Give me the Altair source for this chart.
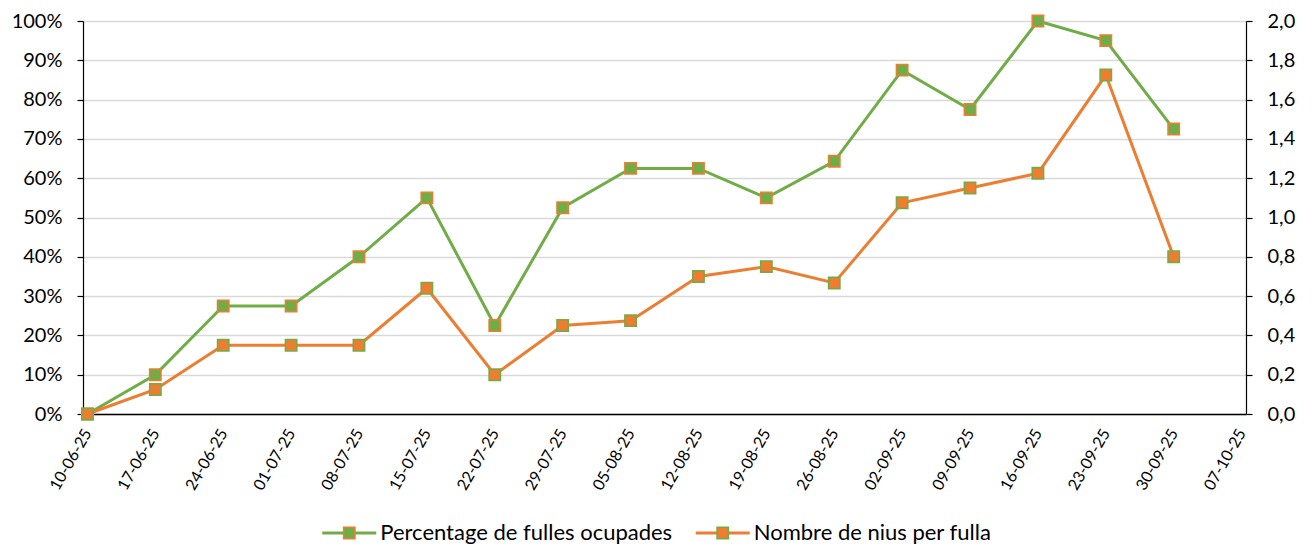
import altair as alt
import pandas as pd

# ---- data ----
dates = ["10-06-25", "17-06-25", "24-06-25", "01-07-25", "08-07-25", "15-07-25",
         "22-07-25", "29-07-25", "05-08-25", "12-08-25", "19-08-25", "26-08-25",
         "02-09-25", "09-09-25", "16-09-25", "23-09-25", "30-09-25", "07-10-25"]
pct_values = [0, 10, 27.5, 27.5, 40, 55, 22.5, 52.5, 62.5, 62.5, 55, 64.3,
              87.5, 77.5, 100, 95, 72.5]
nius_values = [0, 0.125, 0.35, 0.35, 0.35, 0.64, 0.2, 0.45, 0.475, 0.7, 0.75, 0.667,
               1.075, 1.15, 1.225, 1.725, 0.8]
pct_ticks = [0, 10, 20, 30, 40, 50, 60, 70, 80, 90, 100]
nius_ticks = [0.0, 0.2, 0.4, 0.6, 0.8, 1.0, 1.2, 1.4, 1.6, 1.8, 2.0]
legend_names = ["Percentage de fulles ocupades", "Nombre de nius per fulla"]

GREEN = "#70AD47"
ORANGE = "#ED7D31"
FONT = "Lato"
FS = 20

df = pd.DataFrame({"date": dates[:len(pct_values)], "pct": pct_values, "nius": nius_values})

xenc = alt.X(
    "date:O",
    sort=dates,
    scale=alt.Scale(type="point", domain=dates, padding=0.065),
    axis=alt.Axis(title=None, labelAngle=300, labelFontSize=16, labelPadding=16,
                  ticks=False, domainColor="#000000", domainWidth=1.5, grid=False,
                  labelAlign="right", labelBaseline="middle", labelOverlap=False),
)

y_left = alt.Y(
    "pct:Q",
    scale=alt.Scale(domain=[0, 100], nice=False, zero=True),
    axis=alt.Axis(values=pct_ticks, tickCount=11, labelExpr="datum.value + '%'", title=None,
                  grid=True, gridColor="#D9D9D9", gridWidth=1.5, labelOverlap=False,
                  domainColor="#000000", domainWidth=1.2, tickColor="#000000",
                  tickSize=6, tickWidth=1.2, labelPadding=15, minExtent=75, maxExtent=75,
                  labelFontSize=FS),
)
y_right = alt.Y(
    "nius:Q",
    scale=alt.Scale(domain=[0, 2], nice=False, zero=True),
    axis=alt.Axis(orient="right", values=nius_ticks, tickCount=11, labelOverlap=False,
                  labelExpr="replace(format(datum.value, '.1f'), '.', ',')", title=None,
                  grid=False, domainColor="#000000", domainWidth=1.2, tickColor="#000000",
                  tickSize=6, tickWidth=1.2, labelPadding=15, labelFontSize=FS),
)

base = alt.Chart(df)
g_line = base.mark_line(color=GREEN, strokeWidth=3).encode(x=xenc, y=y_left)
g_pts = base.mark_square(fill=GREEN, stroke=ORANGE, strokeWidth=1.5, size=130,
                         opacity=1).encode(x=xenc, y=y_left)
o_line = base.mark_line(color=ORANGE, strokeWidth=3).encode(x=xenc, y=y_right)
o_pts = base.mark_square(fill=ORANGE, stroke=GREEN, strokeWidth=1.5, size=130,
                         opacity=1).encode(x=xenc, y=y_right)

green_layer = alt.layer(g_line, g_pts)
orange_layer = alt.layer(o_line, o_pts)
main = alt.layer(green_layer, orange_layer).resolve_scale(y="independent").properties(
    width=1163, height=393)

# ---- legend built from the series names ----
leg_df = pd.DataFrame({"name": legend_names, "line": [GREEN, ORANGE],
                       "fill": [GREEN, ORANGE], "edge": [ORANGE, GREEN]})
lx = alt.X("name:N", sort=legend_names,
           scale=alt.Scale(type="point", domain=legend_names, padding=0.713), axis=None)
leg_base = alt.Chart(leg_df)
leg_rule = leg_base.mark_rule(strokeWidth=3, xOffset=-27, x2Offset=27).encode(
    x=lx, x2=alt.X2("name:N"), y=alt.value(10),
    stroke=alt.Stroke("line:N", scale=None))
leg_pts = leg_base.mark_square(size=130, strokeWidth=1.5, opacity=1).encode(
    x=lx, y=alt.value(10),
    fill=alt.Fill("fill:N", scale=None), stroke=alt.Stroke("edge:N", scale=None))
leg_text = leg_base.mark_text(align="left", baseline="middle", dx=31, font=FONT,
                              fontSize=22, color="#000000").encode(
    x=lx, y=alt.value(10), text="name:N")
legend = alt.layer(leg_rule, leg_pts, leg_text).properties(width=906, height=20)

chart = alt.vconcat(main, legend, spacing=29).properties(
    padding={"left": 0, "top": 3, "right": 0, "bottom": 0}
).configure_view(stroke=None).configure_axis(
    labelFont=FONT, labelColor="#000000"
)

chart.save("out.html", embed_options={"renderer": "svg", "actions": False})
